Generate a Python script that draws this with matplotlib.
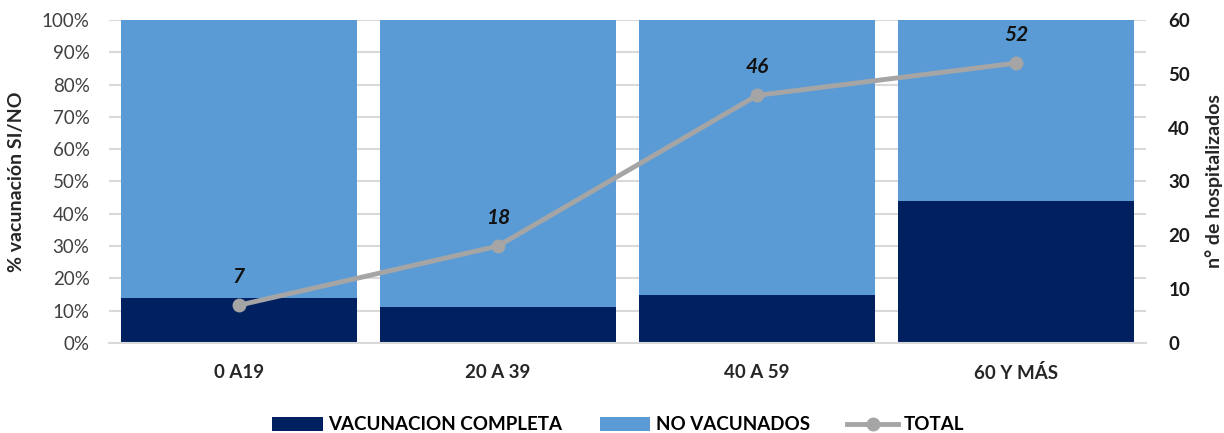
import matplotlib
matplotlib.use("Agg")
import matplotlib.pyplot as plt
import numpy as np
from matplotlib.ticker import PercentFormatter

categories = ["0 A19", "20 A 39", "40 A 59", "60 Y MÁS"]
vac_completa = [14, 11, 15, 44]
no_vacunados = [86, 89, 85, 56]
total = [7, 18, 46, 52]

plt.rcParams['font.family'] = ['Lato', 'DejaVu Sans']

fig = plt.figure(figsize=(12.24, 4.33), dpi=100)
ax = fig.add_axes([109 / 1224, 0.2079, 1037 / 1224, 0.7459])
x = np.arange(len(categories))
dark = "#002060"
light = "#5B9BD5"
grey = "#A5A5A5"

ax.set_axisbelow(True)
ax.yaxis.grid(True, color="#D9D9D9", linewidth=1.5)
ax.bar(x, vac_completa, width=0.91, color=dark, label="VACUNACION COMPLETA", zorder=2)
ax.bar(x, no_vacunados, bottom=vac_completa, width=0.91, color=light, label="NO VACUNADOS", zorder=2)
ax.set_xlim(-0.5, len(categories) - 0.5)
ax.set_ylim(0, 100)
ax.set_yticks(np.arange(0, 101, 10))
ax.yaxis.set_major_formatter(PercentFormatter(decimals=0))
ax.set_xticks(x)
ax.set_xticklabels(categories, fontsize=13.5, fontweight="bold", color="#262626")
ax.tick_params(axis="y", labelsize=13.5, labelcolor="#404040", length=0, pad=14)
ax.tick_params(axis="x", length=0, pad=15)
for s in ["top", "right", "left"]:
    ax.spines[s].set_visible(False)
ax.spines["bottom"].set_color("#D9D9D9")
ax.spines["bottom"].set_linewidth(1.5)
ax.set_ylabel("% vacunación SI/NO", fontsize=14, fontweight="bold", color="#262626")
ax.yaxis.set_label_coords(-0.081, 0.5)

ax2 = ax.twinx()
ax2.set_ylim(0, 60)
ax2.set_yticks(np.arange(0, 61, 10))
line, = ax2.plot(x, total, color=grey, linewidth=3.5, marker="o", markersize=9, label="TOTAL", zorder=3)
for xi, v in zip(x, total):
    ax2.annotate(str(v), (xi, v), textcoords="offset points", xytext=(0, 13),
                 ha="center", va="bottom", fontsize=15, fontweight="bold", fontstyle="italic",
                 color="#111111")
for s in ["top", "right", "left", "bottom"]:
    ax2.spines[s].set_visible(False)
ax2.tick_params(axis="y", labelsize=13.5, length=0, pad=16)
for lbl in ax2.get_yticklabels():
    lbl.set_fontweight("bold")
    lbl.set_color("#1a1a1a")
ax2.set_ylabel("n° de hospitalizados", fontsize=14, fontweight="bold", color="#262626")
ax2.yaxis.set_label_coords(1.057, 0.5)

h1, l1 = ax.get_legend_handles_labels()
h2, l2 = ax2.get_legend_handles_labels()
fig.legend(h1 + h2, l1 + l2, loc="lower center", bbox_to_anchor=(0.505, -0.04), ncol=3,
           frameon=False, prop={"size": 13.5, "weight": "bold"}, handlelength=2.7,
           handleheight=0.8, columnspacing=2.0, handletextpad=0.3)

fig.savefig("out.png", dpi=100)
